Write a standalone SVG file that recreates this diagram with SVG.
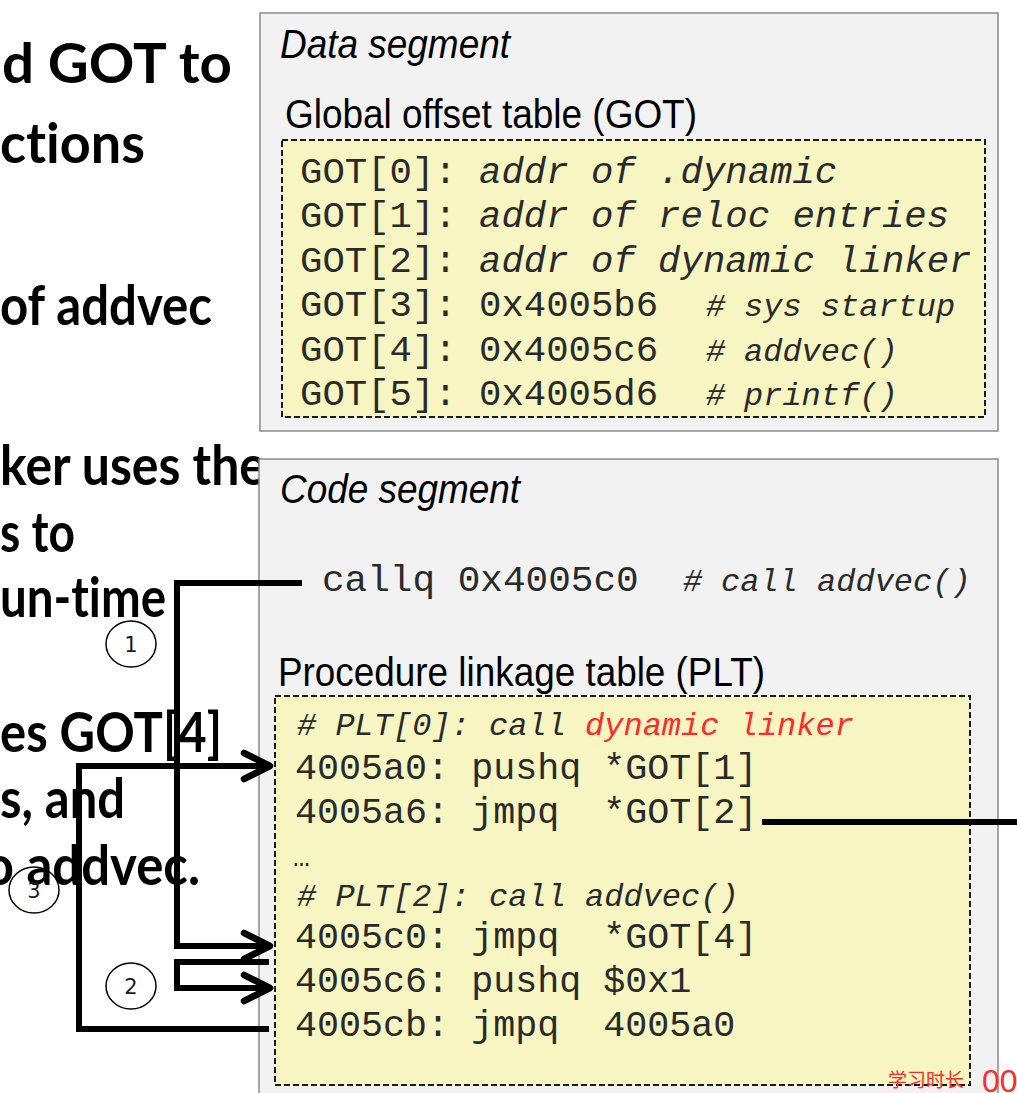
<svg xmlns="http://www.w3.org/2000/svg" width="1017" height="1093" viewBox="0 0 1017 1093">
<style>
.bold{font-family:Lato,"Open Sans","Liberation Sans",sans-serif;font-weight:bold;font-size:56px;fill:#000;font-variant-ligatures:none}
.seg{fill:#f2f2f2;stroke:#8a8a8a;stroke-width:1.5}
.tbl{fill:#f7f5c1;stroke:#1a1a1a;stroke-width:2;stroke-dasharray:6,3}
.hdr{font-family:"Liberation Sans",Arial,sans-serif;font-size:40px;fill:#000}
.it{font-style:italic}
.mono{font-family:"Liberation Mono","Courier New",monospace;fill:#2a2a2a;white-space:pre}
.m1{font-size:37.3px}
.m2{font-size:36.7px}
.cm{font-size:32px;font-style:italic}
.red{fill:#ff2a2a}
.circ{fill:none;stroke:#000;stroke-width:1.5}
.num{font-family:"DejaVu Sans","Liberation Sans",sans-serif;font-size:21px;fill:#1a1a2a;text-anchor:middle}
.conn{fill:none;stroke:#000;stroke-width:6;stroke-linejoin:miter;stroke-linecap:butt}
.wm{fill:#ff2a2a}
</style>
<defs>
<marker id="chev" markerUnits="userSpaceOnUse" markerWidth="44" markerHeight="44" viewBox="-34 -22 44 44" refX="0" refY="0" orient="auto">
<path d="M-26,-13 L0,0 L-26,13" fill="none" stroke="#000" stroke-width="6.5" stroke-linecap="round" stroke-linejoin="round"/>
</marker>
</defs>
<rect width="1017" height="1093" fill="#fff"/>

<g id="left-text">
<text class="bold" x="2" y="83" textLength="230" lengthAdjust="spacingAndGlyphs">d GOT to</text>
<text class="bold" x="0" y="163" textLength="145" lengthAdjust="spacingAndGlyphs">ctions</text>
<text class="bold" x="0" y="325" textLength="212" lengthAdjust="spacingAndGlyphs">of addvec</text>
<text class="bold" x="0" y="485" textLength="266" lengthAdjust="spacingAndGlyphs">ker uses the</text>
<text class="bold" x="0" y="552" textLength="75" lengthAdjust="spacingAndGlyphs">s to</text>
<text class="bold" x="0" y="617" textLength="166" lengthAdjust="spacingAndGlyphs">un-time</text>
<text class="bold" x="0" y="752" textLength="222" lengthAdjust="spacingAndGlyphs">es GOT[4]</text>
<text class="bold" x="0" y="818" textLength="125" lengthAdjust="spacingAndGlyphs">s, and</text>
<text class="bold" x="-34" y="885" textLength="234" lengthAdjust="spacingAndGlyphs">to addvec.</text>
</g>

<g id="data-segment">
<rect class="seg" x="260" y="13" width="738" height="418"/>
<text class="hdr it" x="280" y="58" textLength="230" lengthAdjust="spacingAndGlyphs">Data segment</text>
<text class="hdr" x="285" y="128" textLength="412" lengthAdjust="spacingAndGlyphs">Global offset table (GOT)</text>
</g>

<g id="got-table">
<rect class="tbl" x="282" y="140" width="703" height="277"/>
<text class="mono m1" x="300" y="183">GOT[0]: <tspan class="it">addr of .dynamic</tspan></text>
<text class="mono m1" x="300" y="227">GOT[1]: <tspan class="it">addr of reloc entries</tspan></text>
<text class="mono m1" x="300" y="272">GOT[2]: <tspan class="it">addr of dynamic linker</tspan></text>
<text class="mono m1" x="300" y="316">GOT[3]: 0x4005b6</text>
<text class="mono cm" x="706" y="316">#<tspan x="744">sys startup</tspan></text>
<text class="mono m1" x="300" y="361">GOT[4]: 0x4005c6</text>
<text class="mono cm" x="706" y="361">#<tspan x="744">addvec()</tspan></text>
<text class="mono m1" x="300" y="405">GOT[5]: 0x4005d6</text>
<text class="mono cm" x="706" y="405">#<tspan x="744">printf()</tspan></text>
</g>

<g id="code-segment">
<rect class="seg" x="259" y="459" width="739" height="650"/>
<text class="hdr it" x="280" y="503" textLength="240" lengthAdjust="spacingAndGlyphs">Code segment</text>
<text class="mono" x="322" y="591" font-size="37.7px" fill="#333">callq 0x4005c0</text>
<text class="mono cm" x="683" y="591" fill="#333">#<tspan x="721">call addvec()</tspan></text>
<text class="hdr" x="278" y="686" textLength="487" lengthAdjust="spacingAndGlyphs">Procedure linkage table (PLT)</text>
</g>

<g id="plt-table">
<rect class="tbl" x="275" y="696" width="695" height="389"/>
<text class="mono cm" x="297" y="735"># PLT[0]: call <tspan class="red">dynamic linker</tspan></text>
<text class="mono m2" x="295" y="779">4005a0: pushq *GOT[1]</text>
<text class="mono m2" x="295" y="823" xml:space="preserve">4005a6: jmpq  *GOT[2]</text>
<text class="mono" x="293" y="866" font-size="28px">…</text>
<text class="mono cm" x="297" y="906"># PLT[2]: call addvec()</text>
<text class="mono m2" x="295" y="948" xml:space="preserve">4005c0: jmpq  *GOT[4]</text>
<text class="mono m2" x="295" y="992">4005c6: pushq $0x1</text>
<text class="mono m2" x="295" y="1036" xml:space="preserve">4005cb: jmpq  4005a0</text>
</g>

<g id="step-1">
<ellipse class="circ" cx="131" cy="644" rx="25" ry="23"/>
<text class="num" x="131" y="652">1</text>
</g>
<g id="step-2">
<ellipse class="circ" cx="131" cy="986" rx="25" ry="23"/>
<text class="num" x="131" y="994">2</text>
</g>
<g id="step-3">
<ellipse class="circ" cx="34" cy="890" rx="25" ry="23"/>
<text class="num" x="34" y="898">3</text>
</g>

<g id="connectors">
<path class="conn" d="M302,583 H177 V946 H270" marker-end="url(#chev)"/>
<path class="conn" d="M269,962 H177 V988 H270" marker-end="url(#chev)"/>
<path class="conn" d="M269,1029 H79 V766 H270" marker-end="url(#chev)"/>
<path class="conn" d="M762,822 H1017"/>
</g>

<g id="watermark">
<text x="888" y="1087" font-family="'Noto Sans CJK SC',sans-serif" font-size="19px" class="wm">学习时长</text>
<text x="982" y="1092" font-family="'Liberation Sans',sans-serif" font-size="32px" class="wm">00</text>
</g>
</svg>
